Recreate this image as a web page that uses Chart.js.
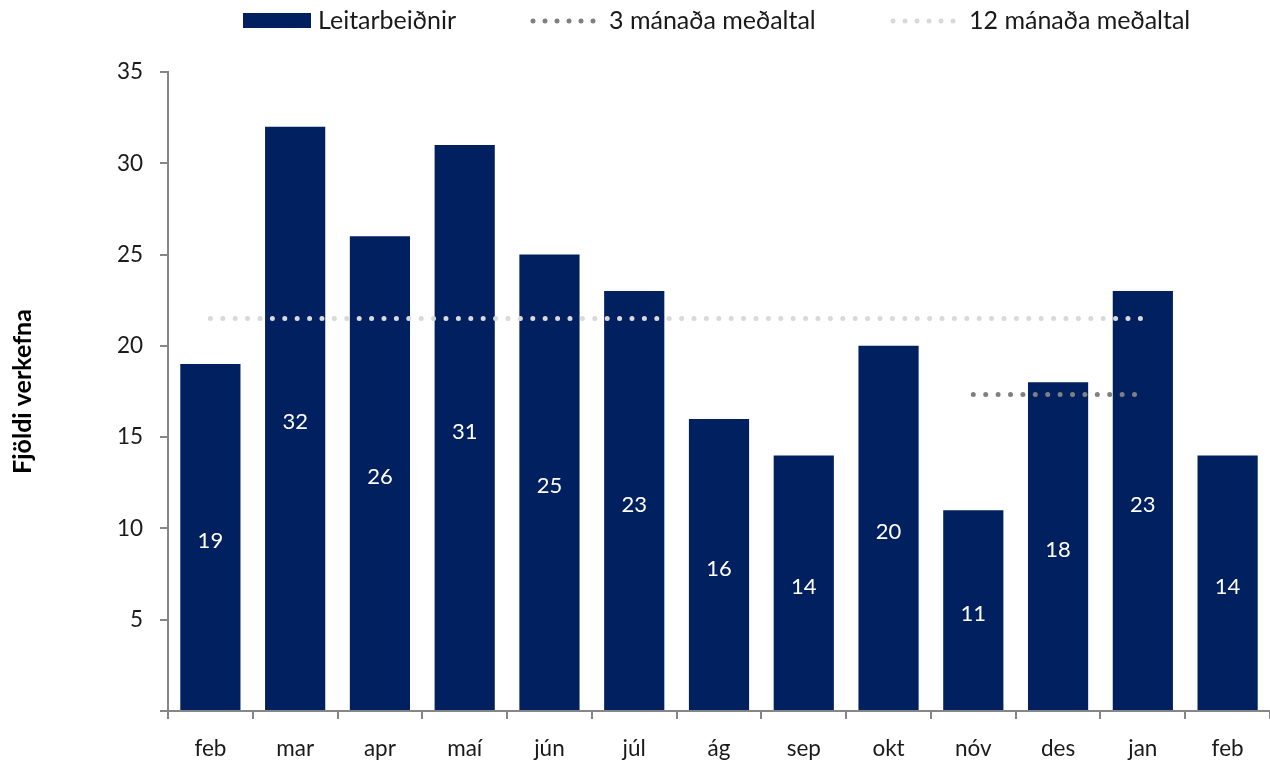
<!DOCTYPE html>
<html>
<head>
<meta charset="utf-8">
<script src="https://cdn.jsdelivr.net/npm/chart.js@4"></script>
<style>
  html, body { margin: 0; padding: 0; background: #ffffff; }
  canvas { display: block; }
</style>
</head>
<body>
<canvas id="c" width="1270" height="761"></canvas>
<script>
// ---- Data ----
const categories = ['feb', 'mar', 'apr', 'maí', 'jún', 'júl', 'ág', 'sep', 'okt', 'nóv', 'des', 'jan', 'feb'];
const requests = [19, 32, 26, 31, 25, 23, 16, 14, 20, 11, 18, 23, 14];
const avg3 = [null, null, null, null, null, null, null, null, null, 17.33, 17.33, 17.33, null];
const avg12 = [21.5, 21.5, 21.5, 21.5, 21.5, 21.5, 21.5, 21.5, 21.5, 21.5, 21.5, 21.5, null];
const seriesNames = ['Leitarbeiðnir', '3 mánaða meðaltal', '12 mánaða meðaltal'];
const yTitle = 'Fjöldi verkefna';
const yMin = 0, yMax = 35, yStep = 5;

const NAVY = '#002060';
const GRAY3 = '#808080';
const GRAY12 = '#d9d9d9';
const AXIS = '#868686';
const TEXT = '#1a1a1a';
const FAMILY = 'Lato, "Open Sans", sans-serif';
const tickFont = { family: FAMILY, size: 22.5 };

// bar value labels, centered in bars
const barLabels = {
  id: 'barLabels',
  afterDatasetsDraw(chart) {
    const ctx = chart.ctx;
    const meta = chart.getDatasetMeta(0);
    ctx.save();
    ctx.fillStyle = '#ffffff';
    ctx.font = '22px ' + FAMILY;
    ctx.textAlign = 'center';
    ctx.textBaseline = 'middle';
    meta.data.forEach((el, i) => {
      const v = chart.data.datasets[0].data[i];
      ctx.fillText(String(v), el.x, (el.y + el.base) / 2 + 4);
    });
    ctx.restore();
  }
};

// legend drawn in the top band
const topLegend = {
  id: 'topLegend',
  afterDraw(chart) {
    const ctx = chart.ctx;
    ctx.save();
    ctx.font = '25px ' + FAMILY;
    ctx.textBaseline = 'middle';
    const cy = 21;
    ctx.fillStyle = NAVY;
    ctx.fillRect(243, 13, 68, 15);
    ctx.fillStyle = TEXT;
    ctx.fillText(seriesNames[0], 318, cy);
    const drawDots = (x0, x1, color) => {
      ctx.save();
      ctx.strokeStyle = color;
      ctx.lineWidth = 5;
      ctx.lineCap = 'round';
      ctx.setLineDash([0, 12]);
      ctx.beginPath();
      ctx.moveTo(x0, cy);
      ctx.lineTo(x1, cy);
      ctx.stroke();
      ctx.restore();
    };
    drawDots(533, 594, GRAY3);
    ctx.fillText(seriesNames[1], 609, cy);
    drawDots(893, 955, GRAY12);
    ctx.fillText(seriesNames[2], 969, cy);
    ctx.restore();
  }
};

new Chart(document.getElementById('c'), {
  data: {
    labels: categories,
    datasets: [
      {
        type: 'bar',
        label: seriesNames[0],
        data: requests,
        backgroundColor: NAVY,
        borderWidth: 0,
        barPercentage: 0.71,
        categoryPercentage: 1.0,
        order: 2
      },
      {
        type: 'line',
        label: seriesNames[1],
        data: avg3,
        borderColor: GRAY3,
        borderWidth: 5,
        borderDash: [0, 12.4],
        borderCapStyle: 'round',
        pointRadius: 0,
        fill: false,
        spanGaps: false,
        order: 1
      },
      {
        type: 'line',
        label: seriesNames[2],
        data: avg12,
        borderColor: GRAY12,
        borderWidth: 5,
        borderDash: [0, 12.4],
        borderCapStyle: 'round',
        pointRadius: 0,
        fill: false,
        spanGaps: false,
        order: 0
      }
    ]
  },
  options: {
    responsive: false,
    animation: false,
    layout: { padding: { top: 72, right: 0, bottom: 0, left: 0 } },
    plugins: {
      legend: { display: false },
      tooltip: { enabled: false }
    },
    scales: {
      x: {
        type: 'category',
        offset: true,
        afterFit(scale) { scale.height = 50; },
        grid: {
          display: true,
          offset: true,
          drawOnChartArea: false,
          drawTicks: true,
          tickLength: 8,
          color: AXIS,
          lineWidth: 2
        },
        border: { display: true, color: AXIS, width: 2 },
        ticks: { color: TEXT, font: tickFont, padding: 16, maxRotation: 0, autoSkip: false }
      },
      y: {
        min: yMin,
        max: yMax,
        afterFit(scale) { scale.width = 168; },
        grid: {
          display: true,
          drawOnChartArea: false,
          drawTicks: true,
          tickLength: 8,
          color: AXIS,
          lineWidth: 2
        },
        border: { display: true, color: AXIS, width: 2 },
        ticks: {
          stepSize: yStep,
          color: TEXT,
          font: tickFont,
          padding: 17,
          callback: (v) => (v === 0 ? '' : v)
        },
        title: {
          display: true,
          text: yTitle,
          color: '#000000',
          font: { family: FAMILY, size: 25, weight: 'bold' },
          padding: { top: 8, bottom: 0 }
        }
      }
    }
  },
  plugins: [barLabels, topLegend]
});
</script>
</body>
</html>
